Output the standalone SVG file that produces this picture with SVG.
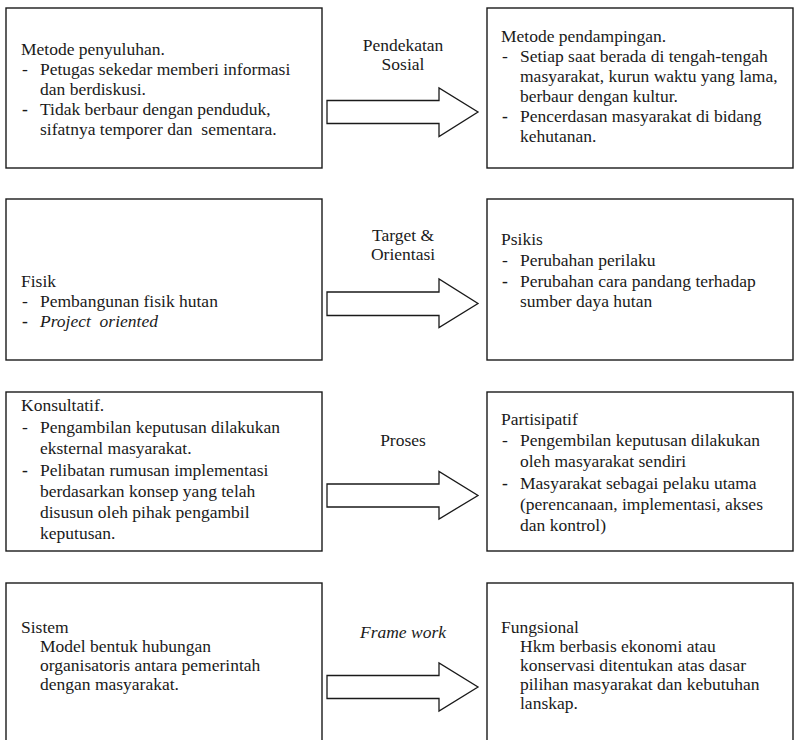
<svg xmlns="http://www.w3.org/2000/svg" width="795" height="740" viewBox="0 0 795 740">
<style>
.box{fill:#fff;stroke:#1a1a1a;stroke-width:1.4}
.arr{fill:#fff;stroke:#1a1a1a;stroke-width:1.3;stroke-linejoin:miter}
text{font-size:17.5px;fill:#1a1a1a;white-space:pre}
.c{text-anchor:middle}
.i{font-style:italic}
.b{font-weight:bold}
</style>
<rect width="795" height="740" fill="#fff"/>
<g font-family="Liberation Serif, serif">
<g id="connectors">
<path class="arr" d="M327,100.5 H439 V88 L478,112 L439,136.5 V123.5 H327 Z"/>
<path class="arr" d="M327,292 H439 V279 L478,303.5 L439,327.5 V315.5 H327 Z"/>
<path class="arr" d="M327,484 H439 V471.5 L478,495.5 L439,519 V507 H327 Z"/>
<path class="arr" d="M327,675.5 H439 V663 L478,687 L439,711 V698.5 H327 Z"/>
<text class="c" x="403" y="51">Pendekatan</text>
<text class="c" x="403" y="70">Sosial</text>
<text class="c" x="403" y="241">Target &amp;</text>
<text class="c" x="403" y="260">Orientasi</text>
<text class="c" x="403" y="446">Proses</text>
<text class="c i" x="403" y="638">Frame work</text>
</g>
<g id="n1">
<rect class="box" x="6" y="8" width="316" height="160"/>
<text x="21" y="55">Metode penyuluhan.</text>
<text x="22" y="75">-</text><text x="40" y="75">Petugas sekedar memberi informasi</text>
<text x="40" y="95">dan berdiskusi.</text>
<text class="b" x="22" y="115">-</text><text x="40" y="115">Tidak berbaur dengan penduduk,</text>
<text x="40" y="135">sifatnya temporer dan  sementara.</text>
</g>
<g id="n2">
<rect class="box" x="487" y="8" width="306" height="160"/>
<text x="501" y="42">Metode pendampingan.</text>
<text x="502" y="62">-</text><text x="520" y="62">Setiap saat berada di tengah-tengah</text>
<text x="520" y="82">masyarakat, kurun waktu yang lama,</text>
<text x="520" y="102">berbaur dengan kultur.</text>
<text class="b" x="502" y="122">-</text><text x="520" y="122">Pencerdasan masyarakat di bidang</text>
<text x="520" y="142">kehutanan.</text>
</g>
<g id="n3">
<rect class="box" x="6" y="199" width="316" height="161"/>
<text x="21" y="287">Fisik</text>
<text x="22" y="307">-</text><text x="40" y="307">Pembangunan fisik hutan</text>
<text class="b" x="22" y="327">-</text><text class="i" x="40" y="327">Project  oriented</text>
</g>
<g id="n4">
<rect class="box" x="487" y="199" width="306" height="161"/>
<text x="501" y="245">Psikis</text>
<text x="502" y="266">-</text><text x="520" y="266">Perubahan perilaku</text>
<text class="b" x="502" y="287">-</text><text x="520" y="287">Perubahan cara pandang terhadap</text>
<text x="520" y="307">sumber daya hutan</text>
</g>
<g id="n5">
<rect class="box" x="6" y="392" width="316" height="159"/>
<text x="21" y="411">Konsultatif.</text>
<text x="22" y="433">-</text><text x="40" y="433">Pengambilan keputusan dilakukan</text>
<text x="40" y="454">eksternal masyarakat.</text>
<text class="b" x="22" y="476">-</text><text x="40" y="476">Pelibatan rumusan implementasi</text>
<text x="40" y="497">berdasarkan konsep yang telah</text>
<text x="40" y="518">disusun oleh pihak pengambil</text>
<text x="40" y="539">keputusan.</text>
</g>
<g id="n6">
<rect class="box" x="487" y="392" width="306" height="159"/>
<text x="501" y="425">Partisipatif</text>
<text x="502" y="446">-</text><text x="520" y="446">Pengembilan keputusan dilakukan</text>
<text x="520" y="467">oleh masyarakat sendiri</text>
<text class="b" x="502" y="489">-</text><text x="520" y="489">Masyarakat sebagai pelaku utama</text>
<text x="520" y="510">(perencanaan, implementasi, akses</text>
<text x="520" y="531">dan kontrol)</text>
</g>
<g id="n7">
<rect class="box" x="6" y="583" width="316" height="170"/>
<text x="21" y="633">Sistem</text>
<text x="40" y="652">Model bentuk hubungan</text>
<text x="40" y="671">organisatoris antara pemerintah</text>
<text x="40" y="690">dengan masyarakat.</text>
</g>
<g id="n8">
<rect class="box" x="487" y="583" width="306" height="170"/>
<text x="501" y="633">Fungsional</text>
<text x="520" y="652">Hkm berbasis ekonomi atau</text>
<text x="520" y="671">konservasi ditentukan atas dasar</text>
<text x="520" y="690">pilihan masyarakat dan kebutuhan</text>
<text x="520" y="709">lanskap.</text>
</g>
</g>
</svg>
